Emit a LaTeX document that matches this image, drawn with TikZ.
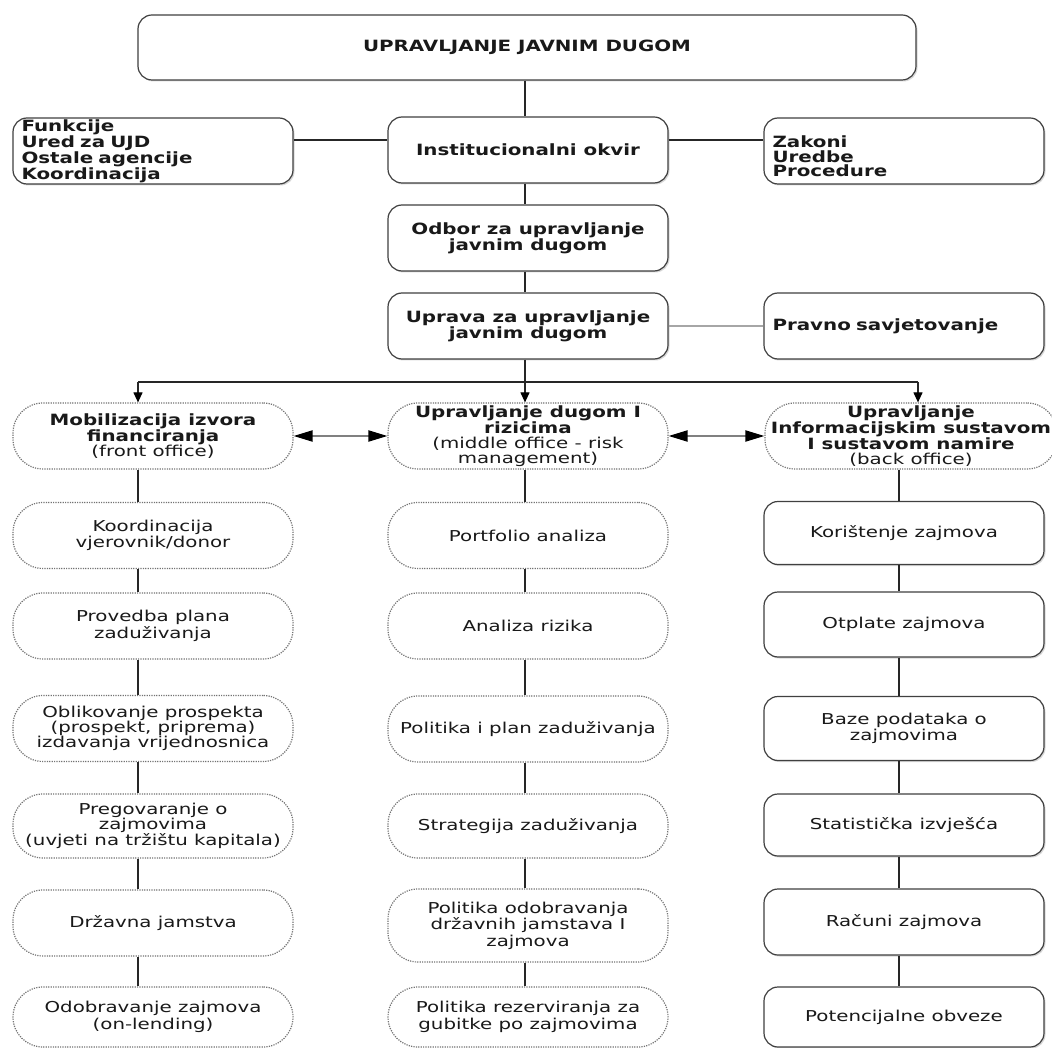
\documentclass[tikz,border=0pt]{standalone}
\usepackage{fontspec}
\newfontfamily\bfnt{DejaVu Sans}[FakeStretch=1.28]
\newfontfamily\rfnt{DejaVu Sans}[FakeStretch=1.32]
\usetikzlibrary{arrows.meta,shadows}
\newcommand{\rgtxt}{\rfnt\mdseries\fontsize{15}{14.8}\selectfont}
\begin{document}
\begin{tikzpicture}[x=1pt,y=-1pt,
  bt/.style={font=\bfnt\bfseries\fontsize{15.5}{14.8}\selectfont, text=black!90},
  rt/.style={font=\rfnt\fontsize{15}{16.5}\selectfont, text=black!90},
  rtight/.style={font=\rfnt\fontsize{15}{15}\selectfont, text=black!90},
  sbox/.style={draw=black!75, line width=1.2pt, rounded corners=14pt, fill=white,
    drop shadow={shadow xshift=1.5pt, shadow yshift=-1.5pt, opacity=0.25, fill=black!60},
    minimum width=280pt, minimum height=66pt, inner sep=0pt, align=center},
  lbox/.style={sbox, align=left, text width=263pt, inner xsep=8.5pt},
  dbox/.style={draw=black!55, line width=1.2pt, dash pattern=on 1.2pt off 1.2pt,
    rounded corners=30pt, fill=white, minimum width=280pt, minimum height=66pt,
    inner sep=0pt, align=center},
  conn/.style={draw=black!85, line width=1.1pt},
  gconn/.style={draw=black!35, line width=2.6pt},
  darr/.style={draw=black!50, line width=2pt,
    {Triangle[length=19pt,width=11pt,black]}-{Triangle[length=19pt,width=11pt,black]}},
  downarr/.style={conn, -{Triangle[length=10pt,width=9pt,black]}}
]
\useasboundingbox[fill=white] (0,0) rectangle (1052,1048);

% top part
\node[sbox, bt, minimum width=778pt, minimum height=65pt] (top) at (527,47.5) {UPRAVLJANJE JAVNIM DUGOM};
\node[sbox, bt] (inst) at (528,150) {Institucionalni okvir};
\node[lbox, bt] (lst) at (153,151) {Funkcije\\Ured za UJD\\Ostale agencije\\Koordinacija};
\node[lbox, bt, text depth=19pt] (zak) at (904,151) {Zakoni\\Uredbe\\Procedure};
\node[sbox, bt] (odbor) at (528,238) {Odbor za upravljanje\\javnim dugom};
\node[sbox, bt] (uprava) at (528,326) {Uprava za upravljanje\\javnim dugom};
\node[lbox, bt] (pravno) at (904,326) {Pravno savjetovanje};

% row 0
\node[dbox, bt] (l0) at (153,436) {Mobilizacija izvora\\financiranja\\{\rgtxt (front office)}};
\node[dbox, bt] (m0) at (528,436) {Upravljanje dugom I\\rizicima\\{\rgtxt (middle office - risk}\\{\rgtxt management)}};
\node[dbox, bt, minimum width=292pt] (r0) at (911,436) {Upravljanje\\Informacijskim sustavom\\I sustavom namire\\{\rgtxt (back office)}};

% left column
\node[dbox, rt] (l1) at (153,535.5) {Koordinacija\\vjerovnik/donor};
\node[dbox, rt] (l2) at (153,626) {Provedba plana\\zaduživanja};
\node[dbox, rtight] (l3) at (153,728.5) {Oblikovanje prospekta\\(prospekt, priprema)\\izdavanja vrijednosnica};
\node[dbox, rtight, minimum height=64pt] (l4) at (153,826) {Pregovaranje o\\zajmovima\\(uvjeti na tržištu kapitala)};
\node[dbox, rt] (l5) at (153,923) {Državna jamstva};
\node[dbox, rt, minimum height=60pt] (l6) at (153,1017) {Odobravanje zajmova\\(on-lending)};

% middle column
\node[dbox, rt] (m1) at (528,535.5) {Portfolio analiza};
\node[dbox, rt] (m2) at (528,626) {Analiza rizika};
\node[dbox, rt] (m3) at (528,729) {Politika i plan zaduživanja};
\node[dbox, rt, minimum height=64pt] (m4) at (528,826) {Strategija zaduživanja};
\node[dbox, rt, minimum height=73pt] (m5) at (528,925.5) {Politika odobravanja\\državnih jamstava I\\zajmova};
\node[dbox, rt, minimum height=60pt] (m6) at (528,1017) {Politika rezerviranja za\\gubitke po zajmovima};

% right column
\node[sbox, rt, minimum height=63pt] (r1) at (904,533) {Korištenje zajmova};
\node[sbox, rt, minimum height=65pt] (r2) at (904,624.5) {Otplate zajmova};
\node[sbox, rt, minimum height=64pt] (r3) at (904,728.5) {Baze podataka o\\zajmovima};
\node[sbox, rt, minimum height=62pt] (r4) at (904,825) {Statistička izvješća};
\node[sbox, rt, minimum height=66pt] (r5) at (904,922) {Računi zajmova};
\node[sbox, rt, minimum height=60pt] (r6) at (904,1017) {Potencijalne obveze};

% helper coordinates
\coordinate (lx) at (138,0);
\coordinate (mx) at (525,0);
\coordinate (rx) at (899,0);
\coordinate (hy) at (0,140);
\coordinate (hl) at (138,382);
\coordinate (hr) at (918,382);

% connectors top part
\draw[conn] (top.south -| mx) -- (inst.north -| mx);
\draw[conn] (inst.south -| mx) -- (odbor.north -| mx);
\draw[conn] (odbor.south -| mx) -- (uprava.north -| mx);
\draw[conn] (lst.east |- hy) -- (inst.west |- hy);
\draw[conn] (inst.east |- hy) -- (zak.west |- hy);
\draw[gconn] (uprava.east) -- (pravno.west);
\draw[conn] (uprava.south -| mx) -- (mx |- hl);
\draw[conn] (hl) -- (hr);
\draw[downarr] (hl) -- (l0.north -| hl);
\draw[downarr] (mx |- hl) -- (m0.north -| mx);
\draw[downarr] (hr) -- (r0.north -| hr);

% double arrows
\draw[darr] (l0.east) -- (m0.west);
\draw[darr] (m0.east) -- (r0.west);

% column connectors
\foreach \a/\b in {l0/l1,l1/l2,l2/l3,l3/l4,l4/l5,l5/l6}
  \draw[conn] (\a.south -| lx) -- (\b.north -| lx);
\foreach \a/\b in {m0/m1,m1/m2,m2/m3,m3/m4,m4/m5,m5/m6}
  \draw[conn] (\a.south -| mx) -- (\b.north -| mx);
\foreach \a/\b in {r0/r1,r1/r2,r2/r3,r3/r4,r4/r5,r5/r6}
  \draw[conn] (\a.south -| rx) -- (\b.north -| rx);
\end{tikzpicture}
\end{document}
